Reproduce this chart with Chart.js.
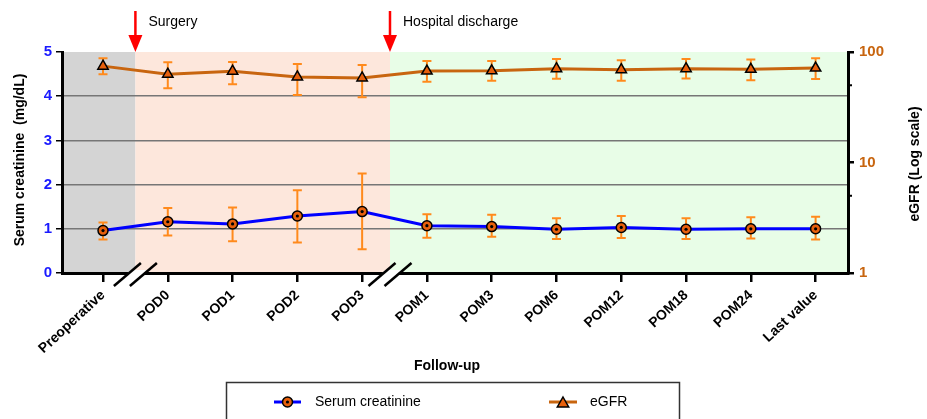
<!DOCTYPE html>
<html>
<head>
<meta charset="utf-8">
<script src="https://cdn.jsdelivr.net/npm/chart.js@4.4.0/dist/chart.umd.min.js"></script>
<style>
    html, body { margin: 0; padding: 0; background: #fff; }
    #wrap { width: 927px; height: 419px; position: relative; }
</style>
</head>
<body>
<div id="wrap"><canvas id="renalChart" width="927" height="419"></canvas></div>
<script>
// follow-up time points
const categories = ['Preoperative', 'POD0', 'POD1', 'POD2', 'POD3', 'POM1', 'POM3', 'POM6', 'POM12', 'POM18', 'POM24', 'Last value'];

// serum creatinine (mg/dL), mean and error bar ends
const creatinine     = [0.96, 1.16, 1.11, 1.29, 1.39, 1.07, 1.05, 0.99, 1.03, 0.99, 1.00, 1.00];
const creatinineLow  = [0.76, 0.85, 0.72, 0.69, 0.54, 0.80, 0.82, 0.77, 0.79, 0.77, 0.78, 0.76];
const creatinineHigh = [1.14, 1.47, 1.48, 1.87, 2.25, 1.33, 1.32, 1.24, 1.29, 1.24, 1.26, 1.27];

// eGFR (log scale)
const egfr     = [74.5, 63.0, 67.0, 59.4, 58.2, 67.3, 67.5, 70.6, 69.2, 70.6, 69.8, 71.5];
const egfrLow  = [63.0, 46.9, 51.0, 40.8, 39.0, 53.9, 55.0, 57.3, 55.0, 57.5, 55.6, 57.0];
const egfrHigh = [87.7, 80.7, 81.0, 77.9, 76.3, 83.0, 83.0, 86.4, 84.3, 86.6, 85.6, 88.0];

const leftTicks  = [0, 1, 2, 3, 4, 5];
const rightTicks = [1, 10, 100];
const rightMinorTicks = [5, 50];

const FONT = "'Liberation Sans', Arial, sans-serif";
const BLUE = '#0000ff';
const BROWN = '#c8650f';
const ORANGE = '#ff8a1c';
const MARKER = '#e8600c';

const creatPoints = creatinine.map((v, i) => ({ x: i, y: v }));
const egfrPoints  = egfr.map((v, i) => ({ x: i, y: v }));

function drawTriangle(ctx, x, y, r) {
    ctx.beginPath();
    ctx.moveTo(x, y - r);
    ctx.lineTo(x + r * 0.95, y + r * 0.65);
    ctx.lineTo(x - r * 0.95, y + r * 0.65);
    ctx.closePath();
    ctx.fillStyle = MARKER;
    ctx.fill();
    ctx.lineWidth = 1.5;
    ctx.strokeStyle = '#000';
    ctx.stroke();
}

function drawCircleMarker(ctx, x, y) {
    ctx.beginPath();
    ctx.arc(x, y, 5, 0, Math.PI * 2);
    ctx.fillStyle = MARKER;
    ctx.fill();
    ctx.lineWidth = 1.5;
    ctx.strokeStyle = '#000';
    ctx.stroke();
    ctx.beginPath();
    ctx.arc(x, y, 1.6, 0, Math.PI * 2);
    ctx.fillStyle = '#000';
    ctx.fill();
}

const decorPlugin = {
    id: 'decor',
    beforeDraw(chart) {
        const ctx = chart.ctx;
        const a = chart.chartArea;
        const xs = chart.scales.x;
        const b1 = xs.getPixelForValue(0.5);
        const b2 = xs.getPixelForValue(4.43);
        ctx.save();
        ctx.fillStyle = '#d4d4d4';
        ctx.fillRect(a.left, a.top, b1 - a.left, a.bottom - a.top);
        ctx.fillStyle = '#fde7dc';
        ctx.fillRect(b1, a.top, b2 - b1, a.bottom - a.top);
        ctx.fillStyle = '#e8fde7';
        ctx.fillRect(b2, a.top, a.right - b2, a.bottom - a.top);
        ctx.restore();
    },
    beforeDatasetsDraw(chart) {
        // error bars
        const ctx = chart.ctx;
        const xs = chart.scales.x, yl = chart.scales.y, yr = chart.scales.y2;
        ctx.save();
        ctx.strokeStyle = ORANGE;
        ctx.lineWidth = 2;
        const bar = (x, top, bot) => {
            ctx.beginPath();
            ctx.moveTo(x, top); ctx.lineTo(x, bot);
            ctx.moveTo(x - 4.5, top); ctx.lineTo(x + 4.5, top);
            ctx.moveTo(x - 4.5, bot); ctx.lineTo(x + 4.5, bot);
            ctx.stroke();
        };
        categories.forEach((c, i) => {
            const x = xs.getPixelForValue(i);
            bar(x, yl.getPixelForValue(creatinineHigh[i]), yl.getPixelForValue(creatinineLow[i]));
            bar(x, yr.getPixelForValue(egfrHigh[i]), yr.getPixelForValue(egfrLow[i]));
        });
        ctx.restore();
    },
    afterDatasetsDraw(chart) {
        // centre dot of the creatinine markers
        const ctx = chart.ctx;
        const meta = chart.getDatasetMeta(0);
        ctx.save();
        ctx.fillStyle = '#000';
        meta.data.forEach(pt => {
            ctx.beginPath();
            ctx.arc(pt.x, pt.y, 1.6, 0, Math.PI * 2);
            ctx.fill();
        });
        ctx.restore();
    },
    afterDraw(chart) {
        const ctx = chart.ctx;
        const a = chart.chartArea;
        const xs = chart.scales.x, yr = chart.scales.y2;
        ctx.save();

        // axis breaks
        [0.5, 4.43].forEach(v => {
            const c = xs.getPixelForValue(v);
            const y1 = 286, y2 = 263, hx = 13.5, off = 8;
            ctx.fillStyle = '#fff';
            ctx.beginPath();
            ctx.moveTo(c - off - 3, a.bottom + 4);
            ctx.lineTo(c + off - 3, a.bottom + 4);
            ctx.lineTo(c + off + 3, a.bottom - 3);
            ctx.lineTo(c - off + 3, a.bottom - 3);
            ctx.closePath();
            ctx.fill();
            ctx.strokeStyle = '#000';
            ctx.lineWidth = 2.5;
            [-off, off].forEach(d => {
                ctx.beginPath();
                ctx.moveTo(c + d - hx, y1);
                ctx.lineTo(c + d + hx, y2);
                ctx.stroke();
            });
        });

        // minor ticks on the log axis
        ctx.strokeStyle = '#000';
        ctx.lineWidth = 2;
        rightMinorTicks.forEach(v => {
            const y = yr.getPixelForValue(v);
            ctx.beginPath();
            ctx.moveTo(a.right, y);
            ctx.lineTo(a.right + 4, y);
            ctx.stroke();
        });

        // event arrows
        const arrow = (x, label) => {
            ctx.strokeStyle = '#ff0000';
            ctx.fillStyle = '#ff0000';
            ctx.lineWidth = 2.5;
            ctx.beginPath();
            ctx.moveTo(x, 11);
            ctx.lineTo(x, 37);
            ctx.stroke();
            ctx.beginPath();
            ctx.moveTo(x - 7, 35);
            ctx.lineTo(x + 7, 35);
            ctx.lineTo(x, a.top);
            ctx.closePath();
            ctx.fill();
            ctx.fillStyle = '#000';
            ctx.font = '14px ' + FONT;
            ctx.textAlign = 'left';
            ctx.textBaseline = 'middle';
            ctx.fillText(label, x + 13, 22);
        };
        arrow(xs.getPixelForValue(0.5), 'Surgery');
        arrow(xs.getPixelForValue(4.43), 'Hospital discharge');

        // axis titles
        ctx.fillStyle = '#000';
        ctx.font = 'bold 14px ' + FONT;
        ctx.textAlign = 'center';
        ctx.textBaseline = 'middle';
        ctx.fillText('Follow-up', 447, 366);
        ctx.save();
        ctx.translate(20, 160);
        ctx.rotate(-Math.PI / 2);
        ctx.fillText('Serum creatinine  (mg/dL)', 0, 0);
        ctx.restore();
        ctx.save();
        ctx.translate(915, 164);
        ctx.rotate(-Math.PI / 2);
        ctx.fillText('eGFR (Log scale)', 0, 0);
        ctx.restore();

        // legend
        ctx.strokeStyle = '#333';
        ctx.lineWidth = 1.5;
        ctx.strokeRect(226.5, 382.5, 453, 60);
        const ly = 402;
        ctx.strokeStyle = BLUE;
        ctx.lineWidth = 3;
        ctx.beginPath(); ctx.moveTo(274, ly); ctx.lineTo(301, ly); ctx.stroke();
        drawCircleMarker(ctx, 287.5, ly);
        ctx.strokeStyle = BROWN;
        ctx.lineWidth = 3;
        ctx.beginPath(); ctx.moveTo(549, ly); ctx.lineTo(577, ly); ctx.stroke();
        drawTriangle(ctx, 563, ly + 1, 6);
        ctx.fillStyle = '#000';
        ctx.font = '14px ' + FONT;
        ctx.textAlign = 'left';
        ctx.fillText('Serum creatinine', 315, ly);
        ctx.fillText('eGFR', 590, ly);

        ctx.restore();
    }
};

new Chart(document.getElementById('renalChart'), {
    type: 'line',
    data: {
        datasets: [
            {
                label: 'Serum creatinine',
                data: creatPoints,
                yAxisID: 'y',
                borderColor: BLUE,
                borderWidth: 3,
                pointStyle: 'circle',
                pointRadius: 5,
                pointBackgroundColor: MARKER,
                pointBorderColor: '#000',
                pointBorderWidth: 1.5,
                tension: 0,
                clip: false
            },
            {
                label: 'eGFR',
                data: egfrPoints,
                yAxisID: 'y2',
                borderColor: BROWN,
                borderWidth: 3,
                pointStyle: 'triangle',
                pointRadius: 6,
                pointBackgroundColor: MARKER,
                pointBorderColor: '#000',
                pointBorderWidth: 1.5,
                tension: 0,
                clip: false
            }
        ]
    },
    options: {
        responsive: false,
        animation: false,
        layout: { padding: { top: 52, left: 0, right: 0, bottom: 0 } },
        plugins: {
            legend: { display: false },
            tooltip: { enabled: false }
        },
        scales: {
            x: {
                type: 'linear',
                min: -0.633,
                max: 11.5,
                afterBuildTicks: s => { s.ticks = categories.map((c, i) => ({ value: i })); },
                afterFit: s => { s.height = 146; },
                border: { color: '#000', width: 3 },
                grid: { drawOnChartArea: false, tickLength: 9, tickColor: '#000', lineWidth: 2.5 },
                ticks: {
                    autoSkip: false,
                    minRotation: 43,
                    maxRotation: 43,
                    padding: 5,
                    color: '#000',
                    font: { family: FONT, size: 14, weight: 'bold' },
                    callback: v => categories[v]
                }
            },
            y: {
                position: 'left',
                min: 0,
                max: 5,
                afterBuildTicks: s => { s.ticks = leftTicks.map(v => ({ value: v })); },
                afterFit: s => { s.width = 62; },
                border: { color: '#000', width: 3 },
                grid: {
                    color: c => (c.tick && (c.tick.value === 0 || c.tick.value === 5)) ? 'rgba(0,0,0,0)' : '#767676',
                    lineWidth: 1.5,
                    tickColor: '#000',
                    tickLength: 6
                },
                ticks: {
                    color: '#1a1aff',
                    padding: 4,
                    font: { family: FONT, size: 15, weight: 'bold' }
                }
            },
            y2: {
                type: 'logarithmic',
                position: 'right',
                min: 1,
                max: 100,
                afterBuildTicks: s => { s.ticks = rightTicks.map(v => ({ value: v, major: true })); },
                afterFit: s => { s.width = 79; },
                border: { color: '#000', width: 3 },
                grid: { drawOnChartArea: false, tickColor: '#000', tickLength: 6, lineWidth: 2.5 },
                ticks: {
                    color: BROWN,
                    padding: 5,
                    font: { family: FONT, size: 15, weight: 'bold' },
                    callback: v => String(v)
                }
            }
        }
    },
    plugins: [decorPlugin]
});
</script>
</body>
</html>
